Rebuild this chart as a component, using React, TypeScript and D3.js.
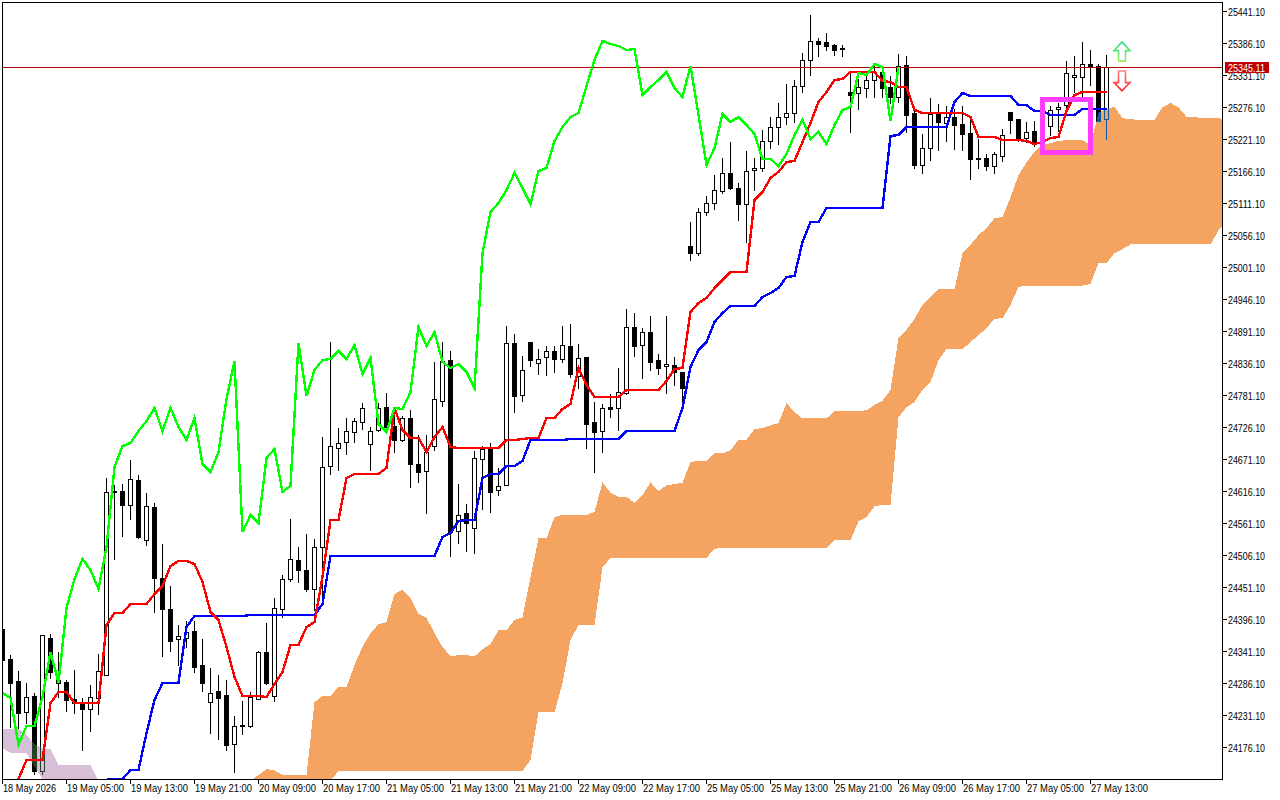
import React from "react";
import * as d3 from "d3";

const opens = [24379,24327,24289,24236,24264,24135,24363,24291,24288,24258,
24252,24241,24260,24300,24616,24616,24592,24635,24532,24588,
24466,24413,24362,24363,24375,24317,24253,24272,24266,24181,
24214,24212,24258,24339,24264,24413,24465,24497,24480,24448,
24520,24659,24690,24700,24717,24735,24697,24721,24760,24728,
24704,24741,24662,24650,24693,24771,24841,24547,24578,24552,
24671,24688,24618,24626,24870,24781,24872,24836,24847,24857,
24843,24865,24814,24847,24735,24719,24760,24759,24784,24898,
24867,24889,24841,24831,24833,24821,25037,25025,25096,25111,
25132,25163,25137,25109,25168,25171,25218,25242,25259,25266,
25312,25357,25389,25388,25383,25377,25302,25300,25309,25322,
25336,25310,25293,25348,25266,25176,25206,25264,25248,25259,
25247,25231,25189,25189,25175,25192,25267,25255,25223,25235,
25219,25243,25273,25279,25328,25328,25350,25346,25255];

const highs = [24379,24336,24308,24288,24271,24368,24372,24341,24293,24310,
24262,24284,24338,24640,24628,24630,24671,24645,24614,24597,
24527,24454,24387,24394,24394,24363,24313,24301,24293,24231,
24257,24272,24343,24391,24434,24473,24570,24521,24544,24535,
24711,24874,24726,24743,24743,24769,24727,24769,24786,24760,
24747,24757,24714,24714,24839,24874,24858,24630,24596,24686,
24695,24700,24657,24901,24888,24850,24872,24862,24867,24867,
24901,24905,24870,24847,24771,24767,24784,24829,24931,24924,
24898,24918,24853,24918,24848,24821,25080,25104,25125,25161,
25190,25218,25147,25202,25190,25238,25260,25285,25317,25324,
25371,25436,25396,25405,25386,25384,25336,25326,25333,25348,
25338,25331,25369,25365,25276,25231,25293,25283,25279,25274,
25279,25260,25222,25197,25200,25240,25269,25257,25252,25254,
25271,25279,25285,25357,25365,25389,25376,25352,25367];

const lows = [24320,24210,24209,24217,24130,24130,24295,24262,24238,24234,
24171,24203,24233,24300,24499,24539,24568,24535,24523,24408,
24332,24341,24317,24348,24305,24272,24200,24190,24171,24133,
24198,24210,24258,24284,24255,24399,24461,24459,24444,24411,
24432,24645,24652,24680,24700,24723,24652,24719,24724,24683,
24702,24623,24631,24578,24686,24762,24504,24527,24513,24509,
24585,24580,24609,24626,24752,24771,24831,24817,24815,24821,
24838,24812,24793,24690,24649,24683,24743,24721,24783,24848,
24810,24824,24817,24784,24798,24767,25013,25022,25091,25101,
25128,25135,25082,25044,25133,25166,25206,25212,25247,25250,
25302,25331,25364,25374,25365,25364,25233,25273,25293,25293,
25293,25283,25285,25233,25171,25163,25185,25202,25218,25204,
25202,25152,25171,25168,25163,25183,25231,25218,25216,25209,
25207,25228,25235,25276,25302,25293,25314,25252,25221];

const closes = [24326,24286,24234,24262,24135,24368,24305,24286,24257,24252,
24241,24262,24307,24614,24614,24592,24637,24537,24590,24466,
24413,24358,24367,24374,24313,24286,24269,24260,24179,24212,
24212,24262,24339,24286,24415,24465,24499,24480,24448,24520,
24657,24693,24698,24719,24736,24759,24719,24759,24726,24704,
24741,24662,24649,24683,24774,24839,24546,24575,24561,24673,
24688,24614,24625,24870,24779,24824,24841,24843,24857,24843,
24867,24817,24845,24731,24717,24759,24757,24786,24898,24865,
24889,24838,24827,24834,24821,24793,25025,25096,25111,25133,
25163,25137,25109,25166,25171,25218,25242,25259,25266,25312,
25357,25389,25384,25381,25374,25376,25297,25310,25322,25336,
25309,25293,25346,25262,25176,25206,25264,25250,25259,25245,
25230,25187,25187,25175,25195,25228,25254,25221,25233,25212,
25245,25271,25276,25334,25331,25350,25345,25252,25345];

const tenkan: (number | null)[] = [null,null,24121,24154,24154,24154,24252,24271,24271,24252,
24252,24252,24252,24386,24406,24406,24422,24422,24422,24439,
24453,24487,24496,24496,24491,24459,24408,24394,24348,24296,
24264,24264,24264,24262,24284,24305,24351,24351,24382,24391,
24468,24566,24566,24638,24645,24645,24645,24645,24656,24759,
24721,24707,24707,24683,24709,24726,24692,24690,24690,24690,
24690,24690,24690,24704,24704,24705,24707,24707,24741,24741,
24757,24766,24827,24798,24778,24778,24778,24778,24790,24790,
24790,24790,24790,24805,24826,24827,24924,24939,24948,24965,
24979,24992,24992,24992,25116,25130,25154,25164,25181,25183,
25216,25249,25285,25302,25322,25324,25336,25336,25336,25336,
25321,25319,25310,25310,25271,25266,25266,25266,25266,25266,
25266,25259,25225,25225,25225,25219,25219,25219,25218,25212,
25216,25223,25225,25269,25297,25302,25302,25302,25302];

const kijun: (number | null)[] = [null,null,null,null,null,null,null,null,null,null,
null,null,null,24121,24121,24121,24136,24136,24200,24257,
24286,24286,24286,24382,24401,24401,24401,24401,24401,24401,
24401,24403,24403,24403,24403,24403,24403,24403,24403,24403,
24422,24504,24504,24504,24504,24504,24504,24504,24504,24504,
24504,24504,24504,24504,24504,24537,24544,24564,24566,24566,
24638,24645,24645,24659,24659,24668,24704,24704,24704,24704,
24704,24705,24705,24705,24705,24705,24705,24705,24719,24719,
24719,24719,24719,24719,24719,24759,24829,24858,24872,24906,
24922,24934,24934,24934,24934,24949,24956,24965,24984,24985,
25044,25078,25078,25102,25102,25102,25102,25102,25102,25102,
25102,25226,25228,25242,25242,25242,25242,25242,25242,25285,
25300,25295,25295,25295,25295,25295,25295,25279,25279,25269,
25269,25262,25262,25262,25262,25273,25273,25273,25273];

const spanA = [24174,24166,24166,24166,24142,24121,24100,24100,24100,24100,
24100,24100,24100,24100,24100,24100,24100,24100,24100,24100,
24100,24100,24100,24100,24100,24100,24100,24100,24100,24100,
24100,24118,24128,24138,24136,24128,24128,24128,24128,24253,
24264,24264,24279,24279,24317,24348,24372,24387,24391,24439,
24446,24432,24405,24398,24372,24348,24332,24334,24334,24332,
24344,24353,24377,24377,24394,24399,24468,24535,24535,24571,
24575,24575,24575,24575,24580,24631,24613,24606,24606,24596,
24609,24631,24616,24626,24628,24630,24666,24668,24668,24681,
24681,24686,24704,24704,24723,24724,24729,24733,24767,24752,
24741,24741,24741,24741,24753,24753,24753,24753,24755,24764,
24771,24790,24879,24893,24912,24936,24950,24963,24963,24963,
25025,25039,25056,25068,25085,25087,25121,25159,25181,25199,
25211,25214,25218,25219,25219,25219,25211,25266,25273,25276,
25257,25255,25254,25254,25254,25276,25283,25276,25259,25259,
25257,25257,25257,25254];

const spanB = [24207,24207,24207,24197,24181,24174,24173,24145,24145,24145,
24145,24145,24118,24100,24100,24100,24100,24100,24100,24100,
24100,24100,24100,24100,24100,24100,24100,24100,24100,24100,
24100,24100,24100,24100,24100,24100,24100,24100,24100,24100,
24100,24118,24135,24135,24135,24135,24135,24135,24135,24135,
24135,24135,24135,24135,24135,24135,24135,24135,24135,24135,
24135,24135,24135,24135,24135,24135,24154,24236,24236,24236,
24286,24360,24386,24386,24386,24485,24501,24501,24501,24501,
24501,24501,24501,24501,24501,24501,24501,24501,24501,24517,
24518,24518,24518,24518,24518,24518,24518,24518,24518,24518,
24518,24518,24518,24518,24532,24532,24532,24564,24571,24590,
24592,24592,24743,24760,24769,24790,24803,24841,24860,24860,
24860,24872,24884,24896,24912,24913,24936,24967,24969,24969,
24969,24969,24969,24969,24969,24969,24972,25008,25008,25025,
25032,25040,25040,25040,25040,25040,25040,25040,25040,25040,
25040,25040,25064,25078];

const priceTicks = [25441.1,25386.1,25331.1,25276.1,25221.1,25166.1,25111.1,25056.1,25001.1,24946.1,
24891.1,24836.1,24781.1,24726.1,24671.1,24616.1,24561.1,24506.1,24451.1,24396.1,24341.1,24286.1,24231.1,24176.1];

const timeLabels = ["18 May 2026","19 May 05:00","19 May 13:00","19 May 21:00","20 May 09:00","20 May 17:00",
"21 May 05:00","21 May 13:00","21 May 21:00","22 May 09:00","22 May 17:00","25 May 05:00","25 May 13:00",
"25 May 21:00","26 May 09:00","26 May 17:00","27 May 05:00","27 May 13:00"];

const lastPrice = 25345.11;
const chikouShift = 26;
const labelEvery = 8;
const boxBars = [130, 136];
const boxPrices = [25289, 25198];
const arrowBar = 140;
const upArrow = { tip: 25388, neck: 25373, tail: 25355 };
const downArrow = { tip: 25304, neck: 25318, tail: 25338 };

const LEFT = 2, RIGHT = 1222, TOP = 2, BOTTOM = 779;
const FONT = "'Liberation Sans', Arial, sans-serif";

const x = d3.scaleLinear().domain([0, 1]).range([2.5, 10.5]);
const y = d3.scaleLinear().domain([25441.1, 24176.1]).range([11, 747]);
const py = (p: number) => Math.round(y(p)) + 0.5;

type Pt = [number, number];
const linePath = (vals: (number | null)[]) =>
  d3.line<number | null>()
    .defined((d) => d !== null)
    .x((_, i) => x(i))
    .y((d) => Math.round(y(d as number)))(vals) || "";

const cloudPath = (test: (a: number, b: number) => boolean) =>
  d3.area<number>()
    .defined((_, i) => test(spanA[i], spanB[i]))
    .x((_, i) => x(i))
    .y0((d) => y(d))
    .y1((_, i) => y(spanB[i]))(spanA) || "";

function arrowPath(cx: number, a: { tip: number; neck: number; tail: number }) {
  const head = 8, shaft = 3.5;
  const pts: Pt[] = [
    [cx, y(a.tip)], [cx + head, y(a.neck)], [cx + shaft, y(a.neck)], [cx + shaft, y(a.tail)],
    [cx - shaft, y(a.tail)], [cx - shaft, y(a.neck)], [cx - head, y(a.neck)],
  ];
  return (d3.line()(pts) || "") + "Z";
}

export default function App() {
  const chikou = closes.slice(chikouShift);
  const lastY = py(lastPrice);
  return (
    <svg width={1280} height={800} style={{ position: "absolute", left: 0, top: 0, display: "block", isolation: "isolate" }}>
      <defs>
        <clipPath id="plot">
          <rect x={LEFT} y={TOP} width={RIGHT - LEFT} height={BOTTOM - TOP} />
        </clipPath>
        <linearGradient id="upGrad" x1="0" y1="0" x2="0" y2="1">
          <stop offset="0" stopColor="#22DD88" />
          <stop offset="1" stopColor="#A0E860" />
        </linearGradient>
        <linearGradient id="downGrad" x1="0" y1="0" x2="0" y2="1">
          <stop offset="0" stopColor="#FF8080" />
          <stop offset="1" stopColor="#FF2020" />
        </linearGradient>
      </defs>
      <rect width={1280} height={800} fill="#fff" />
      <g clipPath="url(#plot)">
        <rect x={LEFT} y={TOP} width={RIGHT - LEFT} height={BOTTOM - TOP} fill="#fff" />
        <g shapeRendering="crispEdges">
          {closes.map((c, i) => {
            const o = opens[i];
            const up = c >= o;
            const cx = x(i);
            const top = py(Math.max(o, c));
            const bot = py(Math.min(o, c));
            return (
              <g key={i}>
                <line x1={cx} x2={cx} y1={py(highs[i])} y2={py(lows[i]) + 0.5} stroke="#000" />
                <rect x={cx - 2} y={top} width={4} height={Math.max(bot - top, 1)} fill={up ? "#fff" : "#000"} stroke="#000" />
              </g>
            );
          })}
        </g>
        <g style={{ mixBlendMode: "difference" }} shapeRendering="crispEdges">
          <path d={cloudPath((a, b) => b > a)} fill="#274027" />
          <path d={cloudPath((a, b) => a > b)} fill="#0B5B9F" />
        </g>
        <line x1={LEFT} x2={RIGHT} y1={lastY} y2={lastY} stroke="#B00000" shapeRendering="crispEdges" />
        <g fill="none" strokeWidth={2.4} shapeRendering="crispEdges">
          <path d={linePath(kijun)} stroke="#0000FF" />
          <path d={linePath(tenkan)} stroke="#FF0000" />
          <path d={linePath(chikou)} stroke="#00FF00" />
        </g>
        <rect
          x={x(boxBars[0])}
          y={y(boxPrices[0])}
          width={x(boxBars[1]) - x(boxBars[0])}
          height={y(boxPrices[1]) - y(boxPrices[0])}
          fill="none"
          stroke="#FF3DFF"
          strokeWidth={5}
          shapeRendering="crispEdges"
        />
        <path d={arrowPath(x(arrowBar) - 0.5, upArrow)} fill="#fff" stroke="url(#upGrad)" strokeWidth={1.6} />
        <path d={arrowPath(x(arrowBar) - 0.5, downArrow)} fill="#fff" stroke="url(#downGrad)" strokeWidth={1.6} />
      </g>

      <g shapeRendering="crispEdges" stroke="#000">
        <line x1={LEFT + 0.5} x2={LEFT + 0.5} y1={TOP} y2={BOTTOM + 1} />
        <line x1={LEFT} x2={RIGHT + 1} y1={TOP + 0.5} y2={TOP + 0.5} />
        <line x1={RIGHT + 0.5} x2={RIGHT + 0.5} y1={TOP} y2={BOTTOM + 1} />
        <line x1={LEFT} x2={RIGHT + 1} y1={BOTTOM + 0.5} y2={BOTTOM + 0.5} />
      </g>

      <g fontFamily={FONT} fontSize={10.5} fill="#000">
        {priceTicks.map((p) => (
          <g key={p}>
            <line x1={RIGHT} x2={RIGHT + 5} y1={py(p)} y2={py(p)} stroke="#000" shapeRendering="crispEdges" />
            <text x={1228} y={py(p) + 4} textLength={37} lengthAdjust="spacingAndGlyphs">{p.toFixed(2)}</text>
          </g>
        ))}
        {timeLabels.map((t, k) => {
          const tx = Math.floor(x(k * labelEvery)) + 0.5;
          return (
            <g key={t}>
              <line x1={tx} x2={tx} y1={BOTTOM} y2={BOTTOM + 5} stroke="#000" shapeRendering="crispEdges" />
              <text x={tx + 0.5} y={792} textLength={k === 0 ? 53 : 57} lengthAdjust="spacingAndGlyphs">{t}</text>
            </g>
          );
        })}
      </g>

      <rect x={1225} y={lastY - 5.5} width={44} height={11} fill="#C00000" shapeRendering="crispEdges" />
      <text x={1228} y={lastY + 4} fontFamily={FONT} fontSize={10.5} fill="#fff" textLength={37} lengthAdjust="spacingAndGlyphs">
        {lastPrice.toFixed(2)}
      </text>
    </svg>
  );
}
